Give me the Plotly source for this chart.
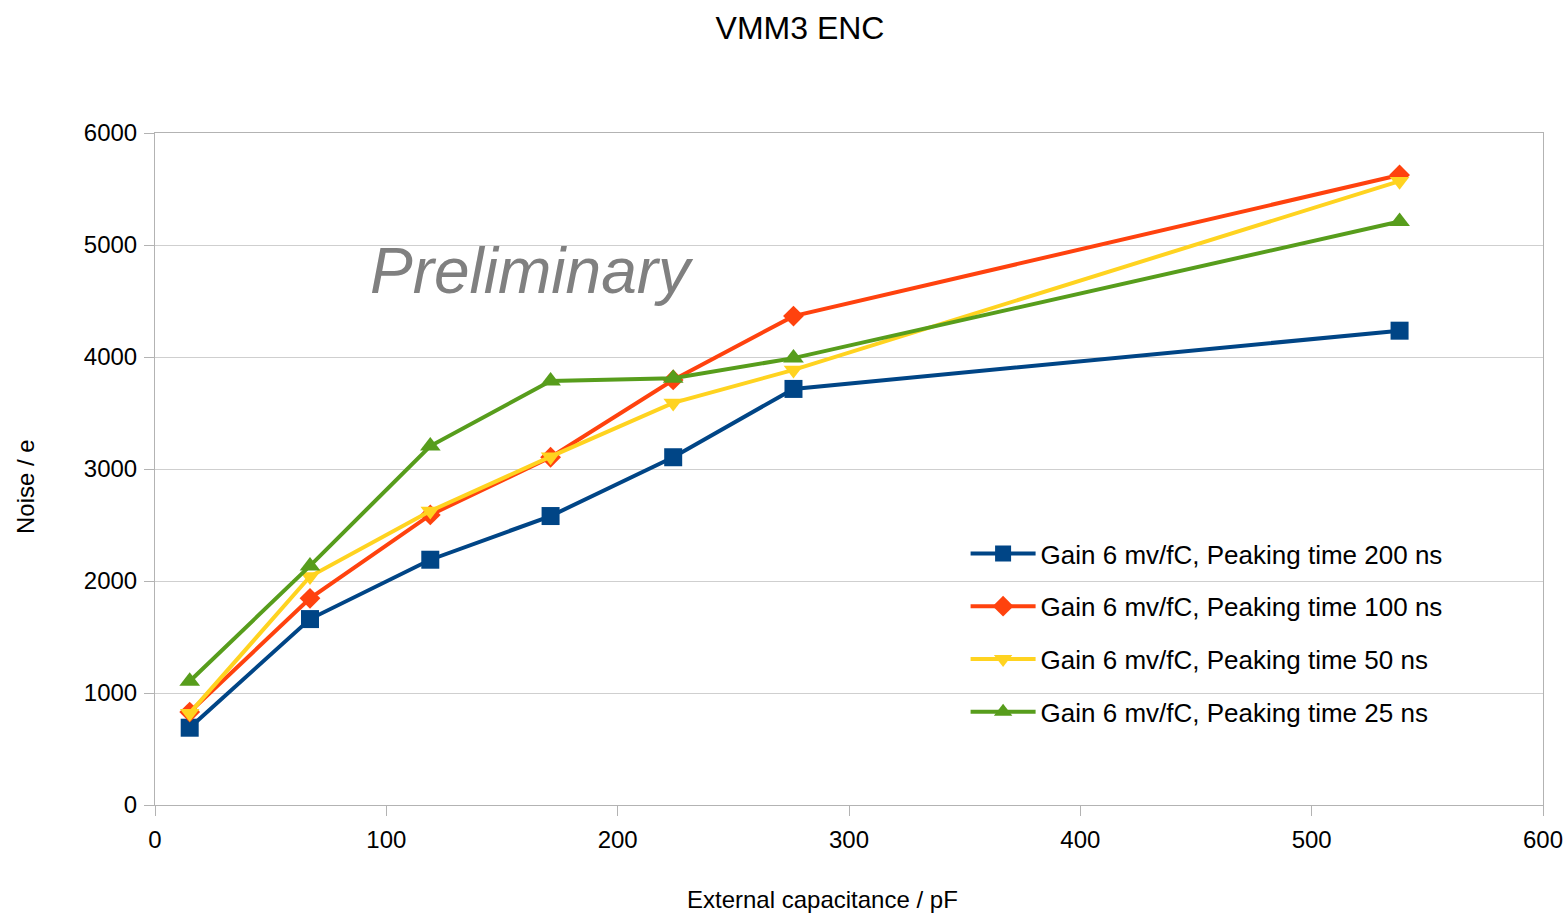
import plotly.graph_objects as go

capacitance = [15, 67, 119, 171, 224, 276, 538]
noise_200ns = [690, 1660, 2190, 2580, 3105, 3715, 4235]
noise_100ns = [830, 1845, 2590, 3105, 3795, 4365, 5625]
noise_50ns = [820, 2040, 2625, 3110, 3590, 3885, 5570]
noise_25ns = [1105, 2135, 3205, 3785, 3810, 3990, 5210]

series_names = [
    "Gain 6 mv/fC, Peaking time 200 ns",
    "Gain 6 mv/fC, Peaking time 100 ns",
    "Gain 6 mv/fC, Peaking time 50 ns",
    "Gain 6 mv/fC, Peaking time 25 ns",
]
series_values = [noise_200ns, noise_100ns, noise_50ns, noise_25ns]
colors = ["#004586", "#ff420e", "#ffd320", "#579d1c"]
symbols = ["square", "diamond", "triangle-down", "triangle-up"]
sizes = [18, 16, 17, 18]

fig = go.Figure()
for name, vals, c, s, sz in zip(series_names, series_values, colors, symbols, sizes):
    fig.add_trace(go.Scatter(
        x=capacitance, y=vals, name=name, mode="lines+markers",
        line=dict(color=c, width=4),
        marker=dict(symbol=s, size=sz, color=c),
        legendgroup=name,
    ))

font_family = "Liberation Sans, Arial, sans-serif"
fig.update_layout(
    width=1568, height=913,
    margin=dict(l=155, r=25, t=133, b=108, autoexpand=False),
    paper_bgcolor="white", plot_bgcolor="white",
    font=dict(family=font_family, color="black", size=24),
    title=dict(text="VMM3 ENC", x=800/1568, xref="container", xanchor="center",
               y=1-28/913, yref="container", yanchor="middle",
               font=dict(size=32, family=font_family)),
    xaxis=dict(range=[0, 600], dtick=100, tick0=0, showgrid=False,
               showline=True, linecolor="#b3b3b3", linewidth=1, mirror=True,
               ticks="outside", ticklen=10, tickcolor="#b3b3b3", ticklabelstandoff=3,
               tickfont=dict(size=24), zeroline=False, automargin=False),
    yaxis=dict(range=[0, 6000], dtick=1000, tick0=0, showgrid=True, gridcolor="#cfcfcf",
               showline=True, linecolor="#b3b3b3", linewidth=1, mirror=True,
               ticks="outside", ticklen=10, tickcolor="#b3b3b3", ticklabelstandoff=2,
               tickfont=dict(size=24), zeroline=False, automargin=False),
    legend=dict(x=0.584, y=(805-530)/672, xanchor="left", yanchor="top",
                bgcolor="rgba(0,0,0,0)", font=dict(size=26, family=font_family),
                traceorder="grouped", tracegroupgap=16, itemwidth=65),
    showlegend=True,
)

fig.add_annotation(text="External capacitance / pF", x=(822-155)/1388, y=(805-899)/672,
                   xref="paper", yref="paper", xanchor="center", yanchor="middle",
                   showarrow=False, font=dict(size=24, family=font_family, color="black"))
fig.add_annotation(text="Noise / e", x=(25-155)/1388, y=(805-487)/672, textangle=-90,
                   xref="paper", yref="paper", xanchor="center", yanchor="middle",
                   showarrow=False, font=dict(size=24, family=font_family, color="black"))
fig.add_annotation(text="<i>Preliminary</i>", x=92, y=4770, xref="x", yref="y",
                   xanchor="left", yanchor="middle", showarrow=False,
                   font=dict(size=64, color="#808080", family=font_family))

fig.write_html("out.html")
